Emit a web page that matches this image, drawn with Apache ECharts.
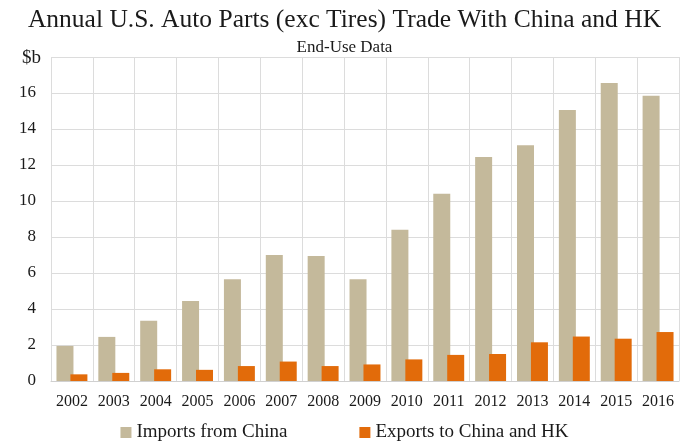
<!DOCTYPE html>
<html>
<head>
<meta charset="utf-8">
<script src="https://cdn.jsdelivr.net/npm/echarts@6/dist/echarts.min.js"></script>
<style>
  html, body { margin: 0; padding: 0; background: #fff; }
  #chart { width: 689px; height: 448px; }
</style>
</head>
<body>
<div id="chart"></div>
<script>
// Annual U.S. auto parts (excluding tires) trade with China and Hong Kong, $ billions
const years = ['2002', '2003', '2004', '2005', '2006', '2007', '2008', '2009',
               '2010', '2011', '2012', '2013', '2014', '2015', '2016'];
const importsFromChina = [1.95, 2.45, 3.35, 4.45, 5.65, 7.0, 6.95, 5.65,
                          8.4, 10.4, 12.45, 13.1, 15.05, 16.55, 15.85];
const exportsToChinaHK = [0.37, 0.45, 0.65, 0.62, 0.83, 1.08, 0.83, 0.92,
                          1.2, 1.45, 1.5, 2.15, 2.47, 2.35, 2.72];
const yTicks = [0, 2, 4, 6, 8, 10, 12, 14, 16];

const serif = '"Liberation Serif", "DejaVu Serif", serif';
const chart = echarts.init(document.getElementById('chart'));

chart.setOption({
  animation: false,
  backgroundColor: '#fff',
  title: [
    {
      text: 'Annual U.S. Auto Parts (exc Tires) Trade With China and HK',
      left: 'center', top: 2,
      textStyle: { fontFamily: serif, fontSize: 25.5, fontWeight: 'normal', color: '#1a1a1a' }
    },
    {
      text: 'End-Use Data',
      left: 'center', top: 34,
      textStyle: { fontFamily: serif, fontSize: 17, fontWeight: 'normal', color: '#1a1a1a' }
    },
    {
      text: '$b',
      left: 17, top: 44,
      textStyle: { fontFamily: serif, fontSize: 19, fontWeight: 'normal', color: '#1a1a1a' }
    }
  ],
  legend: {
    bottom: 1, left: 'center',
    itemWidth: 11, itemHeight: 11, itemGap: 72,
    icon: 'rect',
    textStyle: { fontFamily: serif, fontSize: 19, color: '#1a1a1a' },
    data: ['Imports from China', 'Exports to China and HK']
  },
  grid: { left: 51, right: 10, top: 57, bottom: 67, containLabel: false },
  xAxis: {
    type: 'category',
    data: years,
    axisLine: { show: true, lineStyle: { color: '#d0d0d0' } },
    axisTick: { show: false },
    splitLine: { show: true, interval: 0, lineStyle: { color: '#dcdcdc' } },
    axisLabel: { fontFamily: serif, fontSize: 16, color: '#1a1a1a', margin: 13, interval: 0 }
  },
  yAxis: {
    type: 'value',
    min: 0, max: 18, interval: 2,
    axisLine: { show: false },
    axisTick: { show: false },
    splitLine: { lineStyle: { color: '#dcdcdc' } },
    axisLabel: {
      fontFamily: serif, fontSize: 17, color: '#1a1a1a', margin: 15,
      formatter: v => (yTicks.includes(v) ? String(v) : '')
    }
  },
  series: [
    {
      name: 'Imports from China',
      type: 'bar',
      data: importsFromChina,
      barWidth: 17,
      barGap: '-18%',
      itemStyle: { color: '#c4b99b' }
    },
    {
      name: 'Exports to China and HK',
      type: 'bar',
      data: exportsToChinaHK,
      barWidth: 17,
      itemStyle: { color: '#e26b0a' }
    }
  ]
});
</script>
</body>
</html>
